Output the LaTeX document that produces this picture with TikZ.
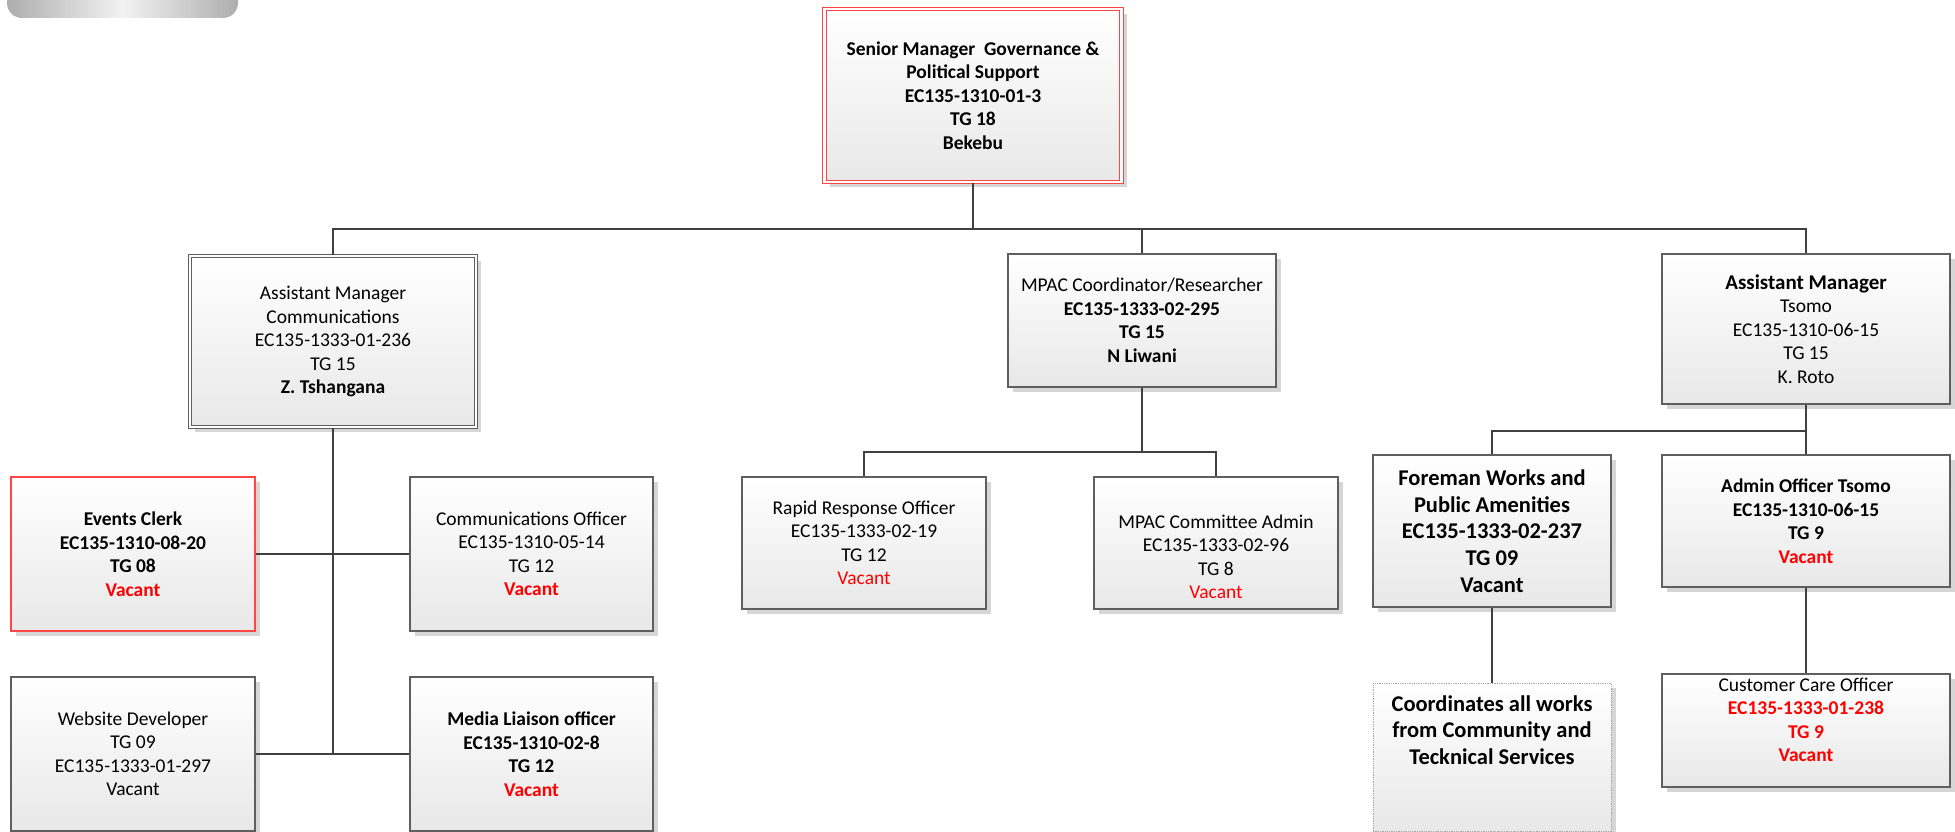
\documentclass[tikz,border=0pt]{standalone}
\usepackage{fontspec}
\setmainfont{Carlito}
\usetikzlibrary{shadows}

\definecolor{linegray}{HTML}{404040}
\definecolor{boxedge}{HTML}{5F5F5F}
\definecolor{vacred}{HTML}{FF0000}
\definecolor{edgered}{HTML}{FF4545}

\newcommand{\vac}{\textcolor{vacred}{Vacant}}
\newcommand{\bvac}{\textcolor{vacred}{\textbf{Vacant}}}

\tikzset{
  post/.style={draw=boxedge, line width=1.3pt, top color=white, bottom color=black!9,
    inner sep=0pt, align=center, font=\fontsize{19.5}{23.5}\selectfont,
    drop shadow={shadow xshift=5pt, shadow yshift=-5pt, fill=black!16, opacity=1}},
  bigtext/.style={font=\fontsize{22.5}{26.8}\selectfont\bfseries},
  txt/.style={inner sep=0pt, align=center, font=\fontsize{19.5}{23.5}\selectfont},
  link/.style={draw=linegray, line width=2.7pt},
}

\begin{document}
\begin{tikzpicture}[x=1pt, y=-1pt]
\useasboundingbox (0,0) rectangle (1955,832);

% title banner cut off at the top edge
\path[left color=black!32, right color=black!32, middle color=black!5, rounded corners=15pt]
  (7,-30) rectangle (238,18);

% level 1
\node[post, draw=edgered, double=white, double distance=2.6pt, line width=1.1pt,
      minimum width=297pt, minimum height=173pt] (top) at (973,95.5)
  {\textbf{Senior Manager\ \ Governance \&}\\ \textbf{Political Support}\\
   \textbf{EC135-1310-01-3}\\ \textbf{TG 18}\\ \textbf{Bekebu}};

% level 2
\node[post, double=white, double distance=2.4pt, line width=1.1pt,
      minimum width=286pt, minimum height=171pt] (amc) at (333,341.5)
  {Assistant Manager\\ Communications\\ EC135-1333-01-236\\ TG 15\\ \textbf{Z. Tshangana}};
\node[post, minimum width=268pt, minimum height=133pt] (mpac) at (1142,320.5)
  {MPAC Coordinator/Researcher\\ \textbf{EC135-1333-02-295}\\ \textbf{TG 15}\\ \textbf{N Liwani}};
\node[post, minimum width=288pt, minimum height=150pt] (amt) at (1806,329)
  {\textbf{\fontsize{21}{23.5}\selectfont Assistant Manager}\\ Tsomo\\ EC135-1310-06-15\\ TG 15\\ K. Roto};

% communications team
\node[post, draw=edgered, minimum width=244pt, minimum height=154pt] (events) at (133,554)
  {\textbf{Events Clerk}\\ \textbf{EC135-1310-08-20}\\ \textbf{TG 08}\\ \bvac};
\node[post, minimum width=243pt, minimum height=154pt] (comoff) at (531.5,554)
  {Communications Officer\\ EC135-1310-05-14\\ TG 12\\ \bvac};
\node[post, minimum width=244pt, minimum height=154pt] (web) at (133,754)
  {Website Developer\\ TG 09\\ EC135-1333-01-297\\ Vacant};
\node[post, minimum width=243pt, minimum height=154pt] (media) at (531.5,754)
  {\textbf{Media Liaison officer}\\ \textbf{EC135-1310-02-8}\\ \textbf{TG 12}\\ \bvac};

% MPAC team
\node[post, minimum width=244pt, minimum height=132pt] (rapid) at (864,543)
  {Rapid Response Officer\\ EC135-1333-02-19\\ TG 12\\ \vac};
\node[post, minimum width=244pt, minimum height=132pt] (mca) at (1216,543) {};
\node[txt] (mca-text) at (1216,557)
  {MPAC Committee Admin\\ EC135-1333-02-96\\ TG 8\\ \vac};

% Tsomo team
\node[post, bigtext, minimum width=238pt, minimum height=152pt] (foreman) at (1492,531)
  {Foreman Works and\\ Public Amenities\\ EC135-1333-02-237\\ TG 09\\ Vacant};
\node[post, minimum width=288pt, minimum height=132pt] (admin) at (1806,521)
  {\textbf{Admin Officer Tsomo}\\ \textbf{EC135-1310-06-15}\\ \textbf{TG 9}\\ \bvac};
\node[post, minimum width=288pt, minimum height=113pt] (cust) at (1806,730.5) {};
\node[txt] (cust-text) at (1806,720)
  {Customer Care Officer\\ \textcolor{vacred}{\textbf{EC135-1333-01-238}}\\
   \textcolor{vacred}{\textbf{TG 9}}\\ \bvac};
\node[post, draw=black!35, densely dotted, line width=1pt,
      minimum width=238pt, minimum height=148pt] (coord) at (1492,757) {};
\node[txt, bigtext] (coord-text) at (1492,730)
  {Coordinates all works\\ from Community and\\ Tecknical Services};

% connectors
\coordinate (bus) at (973,229);
\coordinate (amcbot) at (333,753);
\coordinate (mbus) at (1142,452);
\coordinate (abus) at (1806,431);

\draw[link] (top.south) -- (bus);
\draw[link] (amc.north) |- (bus) -| (amt.north);
\draw[link] (mpac.north) -- (mpac.north |- bus);
\draw[link] (amc.south) -- (amcbot);
\draw[link] (events.east) -- (comoff.west);
\draw[link] (web.east) -- (media.west);
\draw[link] (mpac.south) -- (mbus);
\draw[link] (rapid.north) |- (mbus) -| (mca.north);
\draw[link] (amt.south) -- (admin.north);
\draw[link] (abus) -| (foreman.north);
\draw[link] (admin.south) -- (cust.north);
\draw[link] (foreman.south) -- (coord.north);
\end{tikzpicture}
\end{document}
